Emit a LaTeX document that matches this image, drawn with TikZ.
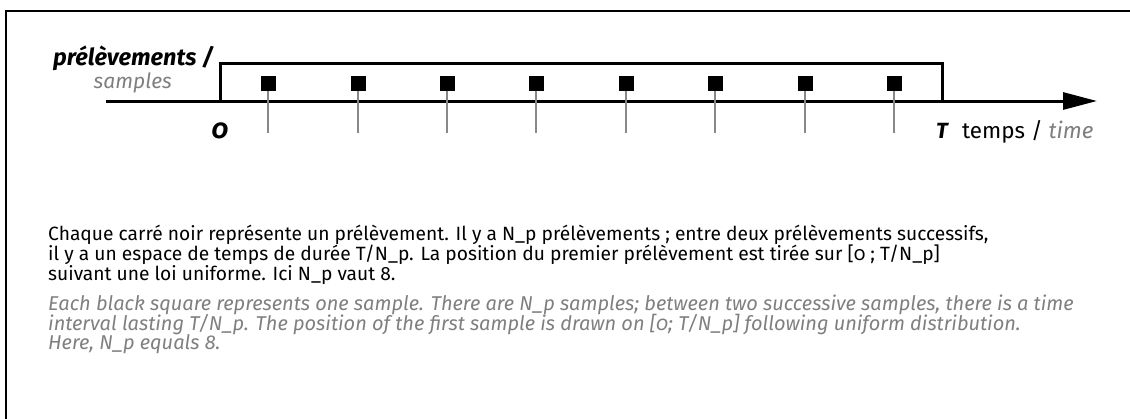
\documentclass[tikz,border=0pt]{standalone}
\usepackage{fontspec}
\setmainfont{Fira Sans}[Numbers=OldStyle]
\usetikzlibrary{arrows.meta}
\definecolor{txtgray}{HTML}{7F7F7F}
\definecolor{stemgray}{HTML}{888888}
\begin{document}
\begin{tikzpicture}[x=1pt,y=-1pt,
  sq/.style={fill=black,inner sep=0pt,minimum size=15pt},
  stem/.style={draw=stemgray,line width=1.5pt},
  thick line/.style={line width=3pt},
  lbl/.style={inner sep=0pt,font=\fontsize{21}{24}\selectfont\bfseries\itshape},
  para/.style={inner sep=0pt,anchor=base west,font=\fontsize{19.2}{20}\selectfont},
  paragray/.style={para,text=txtgray,font=\fontsize{20}{20}\selectfont\itshape}]
\useasboundingbox (0,0) rectangle (1130,418);
% frame
\draw[line width=1.5pt] (1140,11) -- (6,11) -- (6,430);
% axis
\coordinate (a0) at (106,101);
\coordinate (a1) at (1097,101);
\draw[thick line,-{Triangle[length=34pt,width=17pt]}] (a0) -- (a1);
% window
\coordinate (w0) at (220,101);
\coordinate (w1) at (942,101);
\draw[thick line,line cap=rect] (w0) -- (220,63) -- (942,63) -- (w1);
% samples
\foreach \i/\x in {1/268,2/358,3/447,4/536,5/626,6/715,7/805,8/894}{
  \node[sq] (s\i) at (\x,83) {};
  \coordinate (e\i) at (\x,133);
  \draw[stem] (s\i.south) -- (e\i);
}
% labels
\node[lbl,anchor=base east,font=\fontsize{23.5}{26}\selectfont\bfseries\itshape] (pl) at (214,65) {prélèvements /};
\node[lbl,anchor=base east,text=txtgray,font=\fontsize{21}{24}\selectfont\itshape] (sp) at (172,88) {samples};
\node[lbl,anchor=base,font=\fontsize{27}{28}\selectfont\bfseries\itshape] (zero) at (220,138) {0};
\node[lbl,anchor=base,font=\fontsize{22}{24}\selectfont\bfseries\itshape] (T) at (942,138) {T};
\node[inner sep=0pt,anchor=base west,font=\fontsize{22.4}{24}\selectfont] (tm) at (962,138) {temps / \textcolor{txtgray}{\itshape time}};
% text
\node[para] (f1) at (48,240) {Chaque carré noir représente un prélèvement. Il y a N\_p prélèvements ; entre deux prélèvements successifs,};
\node[para] (f2) at (48,260) {il y a un espace de temps de durée T/N\_p. La position du premier prélèvement est tirée sur [0 ; T/N\_p]};
\node[para] (f3) at (48,280) {suivant une loi uniforme. Ici N\_p vaut 8.};
\node[paragray] (g1) at (48,310) {Each black square represents one sample. There are N\_p samples; between two successive samples, there is a time};
\node[paragray] (g2) at (48,330) {interval lasting T/N\_p. The position of the first sample is drawn on [0; T/N\_p] following uniform distribution.};
\node[paragray] (g3) at (48,349) {Here, N\_p equals 8.};
\end{tikzpicture}
\end{document}
